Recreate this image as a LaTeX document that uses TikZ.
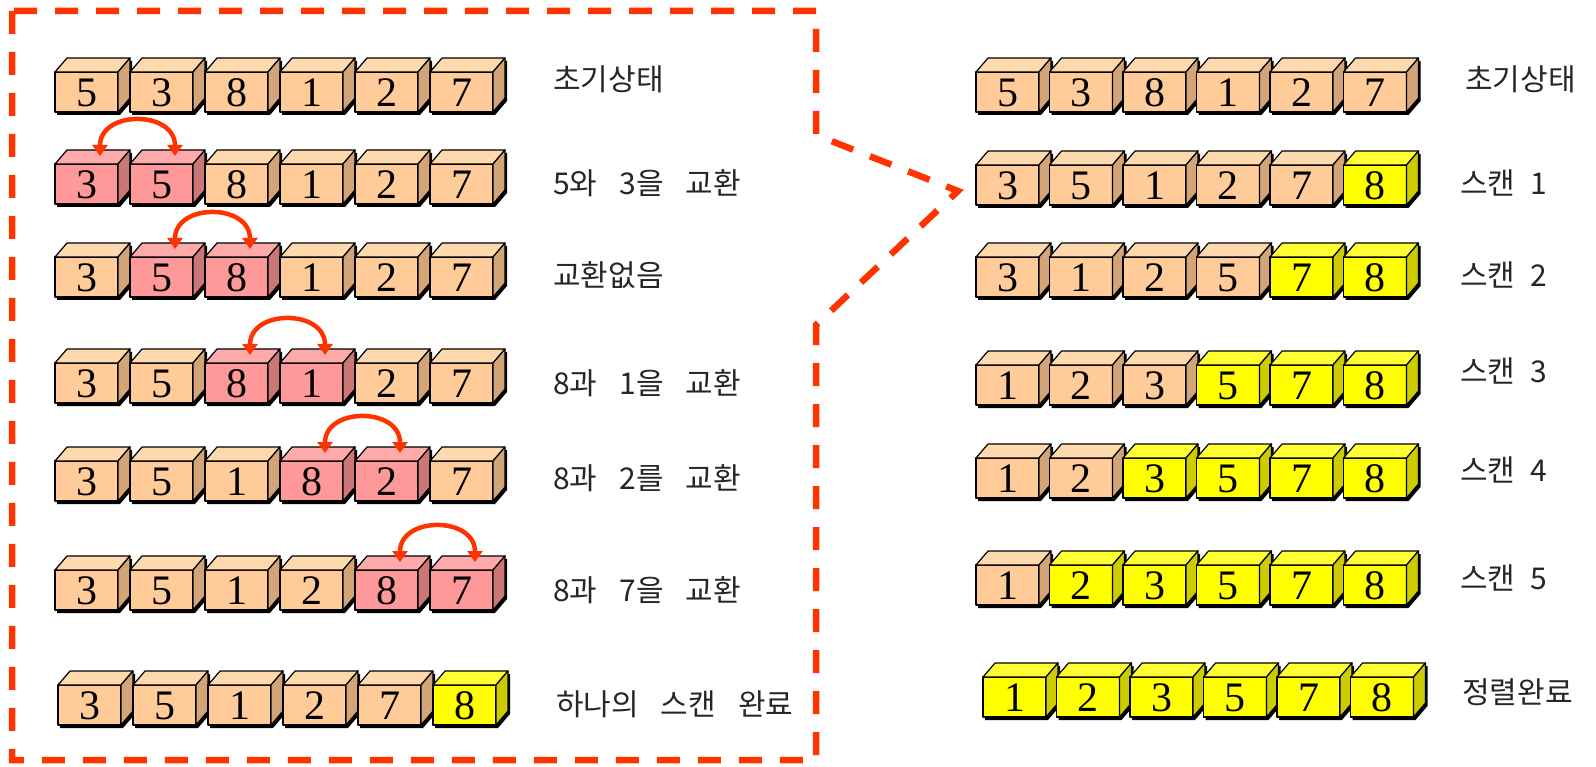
\documentclass[tikz,border=0pt]{standalone}
\usepackage{fontspec}
\newfontfamily\kr{Noto Sans CJK KR}
\newfontfamily\dg{Liberation Serif}
\usetikzlibrary{arrows.meta}
\definecolor{oF}{HTML}{FFCC99}
\definecolor{oT}{HTML}{FFD9AE}
\definecolor{oS}{HTML}{D2A477}
\definecolor{pF}{HTML}{FF9999}
\definecolor{pT}{HTML}{FFAAAA}
\definecolor{pS}{HTML}{CC7777}
\definecolor{yF}{HTML}{FFFF00}
\definecolor{yT}{HTML}{FFFF33}
\definecolor{yS}{HTML}{CCCC00}
\definecolor{redline}{HTML}{FF3300}
\newcommand\wsp{\hspace{22pt}}
\tikzset{
  edge/.style={draw=black, line width=1.2pt, line join=round},
  digit/.style={inner sep=0pt, font=\dg\fontsize{42}{42}\selectfont},
  lbl/.style={anchor=west, inner sep=0pt, font=\kr\fontsize{30}{30}\selectfont, text=black!85},
  swaparrow/.style={draw=redline, line width=4.5pt,
    arrows={Triangle[width=15pt,length=11pt]-Triangle[width=15pt,length=11pt]}},
  frame/.style={draw=redline, line width=6.5pt, dash pattern=on 23pt off 18pt, dash phase=-2pt}
}
\newcommand\cubebox[5]{%
  \fill[black] (#1+2,#2+3) -- (#1+14,#2-11) -- (#1+77,#2-11) -- (#1+77,#2+29) -- (#1+65,#2+43) -- (#1+2,#2+43) -- cycle;
  \filldraw[edge, fill=#3F] (#1,#2) rectangle (#1+63,#2+40);
  \filldraw[edge, fill=#3T] (#1,#2) -- (#1+12,#2-14) -- (#1+75,#2-14) -- (#1+63,#2) -- cycle;
  \filldraw[edge, fill=#3S] (#1+63,#2) -- (#1+75,#2-14) -- (#1+75,#2+26) -- (#1+63,#2+40) -- cycle;
  \node[digit] (#5) at (#1+31.5,#2+21) {#4};
  \coordinate (#5t) at (#1+45,#2-8);
}
\newcommand\cuberow[5]{%
  \foreach \c/\d [count=\i] in {#5} {%
    \pgfmathsetmacro\cx{#2+(\i-1)*#4}%
    \cubebox{\cx}{#3}{\c}{\d}{#1-\i}%
  }%
}
\begin{document}
\begin{tikzpicture}[x=1pt,y=-1pt]
\useasboundingbox (0,0) rectangle (1596,767);
% left column
\cuberow{L1}{55}{72}{75}{o/5,o/3,o/8,o/1,o/2,o/7}
\cuberow{L2}{55}{164}{75}{p/3,p/5,o/8,o/1,o/2,o/7}
\cuberow{L3}{55}{257}{75}{o/3,p/5,p/8,o/1,o/2,o/7}
\cuberow{L4}{55}{363}{75}{o/3,o/5,p/8,p/1,o/2,o/7}
\cuberow{L5}{55}{461}{75}{o/3,o/5,o/1,p/8,p/2,o/7}
\cuberow{L6}{55}{570}{75}{o/3,o/5,o/1,o/2,p/8,p/7}
\cuberow{L7}{58}{685}{75}{o/3,o/5,o/1,o/2,o/7,y/8}
% swap arrows
\draw[swaparrow] (L2-1t) .. controls +(0,-46) and +(0,-46) .. (L2-2t);
\draw[swaparrow] (L3-2t) .. controls +(0,-46) and +(0,-46) .. (L3-3t);
\draw[swaparrow] (L4-3t) .. controls +(0,-46) and +(0,-46) .. (L4-4t);
\draw[swaparrow] (L5-4t) .. controls +(0,-46) and +(0,-46) .. (L5-5t);
\draw[swaparrow] (L6-5t) .. controls +(0,-46) and +(0,-46) .. (L6-6t);
% left labels
\node[lbl] (la1) at (553,79) {초기상태};
\node[lbl] (la2) at (553,183) {5와\wsp 3을\wsp 교환};
\node[lbl] (la3) at (553,275) {교환없음};
\node[lbl] (la4) at (553,383) {8과\wsp 1을\wsp 교환};
\node[lbl] (la5) at (553,478) {8과\wsp 2를\wsp 교환};
\node[lbl] (la6) at (553,590) {8과\wsp 7을\wsp 교환};
\node[lbl] (la7) at (556,704) {하나의\wsp 스캔\wsp 완료};
% right column
\cuberow{R1}{976}{72}{73.5}{o/5,o/3,o/8,o/1,o/2,o/7}
\cuberow{R2}{976}{165}{73.5}{o/3,o/5,o/1,o/2,o/7,y/8}
\cuberow{R3}{976}{257}{73.5}{o/3,o/1,o/2,o/5,y/7,y/8}
\cuberow{R4}{976}{365}{73.5}{o/1,o/2,o/3,y/5,y/7,y/8}
\cuberow{R5}{976}{458}{73.5}{o/1,o/2,y/3,y/5,y/7,y/8}
\cuberow{R6}{976}{565}{73.5}{o/1,y/2,y/3,y/5,y/7,y/8}
\cuberow{R7}{983}{677}{73.5}{y/1,y/2,y/3,y/5,y/7,y/8}
% right labels
\node[lbl] (ra1) at (1465,79) {초기상태};
\node[lbl] (ra2) at (1460,183) {스캔\hspace{8pt} 1};
\node[lbl] (ra3) at (1460,275) {스캔\hspace{8pt} 2};
\node[lbl] (ra4) at (1460,371) {스캔\hspace{8pt} 3};
\node[lbl] (ra5) at (1460,470) {스캔\hspace{8pt} 4};
\node[lbl] (ra6) at (1460,578) {스캔\hspace{8pt} 5};
\node[lbl] (ra7) at (1462,692) {정렬완료};
% dashed frame with pointer
\coordinate (f1) at (12,11);
\coordinate (f2) at (816,11);
\coordinate (f3) at (816,135);
\coordinate (f4) at (958,191);
\coordinate (f5) at (816,325);
\coordinate (f6) at (816,760);
\coordinate (f7) at (12,760);
\draw[frame] (f1) -- (f2) -- (f3) -- (f4) -- (f5) -- (f6) -- (f7) -- cycle;
\end{tikzpicture}
\end{document}
